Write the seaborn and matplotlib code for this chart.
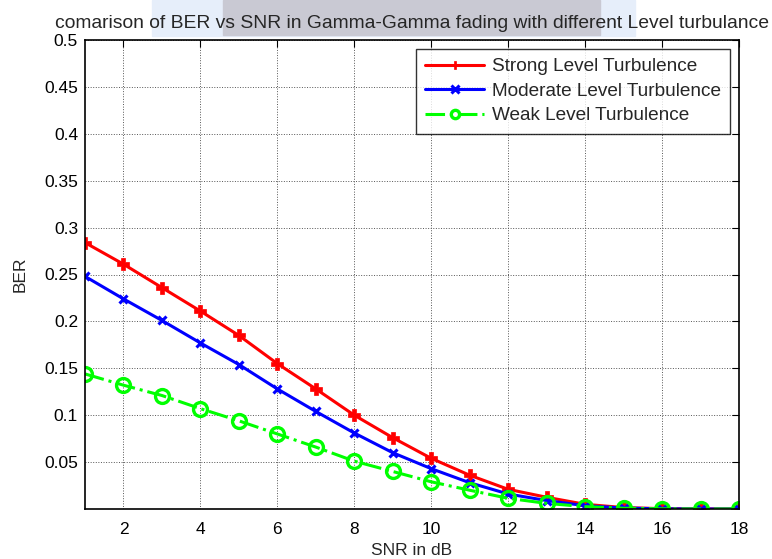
import matplotlib
matplotlib.use("Agg")
import matplotlib.pyplot as plt
from matplotlib.patches import Rectangle
import seaborn as sns
import pandas as pd

snr_db = [1, 2, 3, 4, 5, 6, 7, 8, 9, 10, 11, 12, 13, 14, 15, 16, 17, 18]
ber_strong = [0.284, 0.261, 0.236, 0.211, 0.185, 0.155, 0.128, 0.100, 0.076, 0.054,
              0.036, 0.021, 0.0125, 0.005, 0.0015, 0.0004, 0.0001, 0.0]
ber_moderate = [0.248, 0.224, 0.201, 0.177, 0.154, 0.128, 0.104, 0.081, 0.060, 0.043,
                0.028, 0.016, 0.009, 0.0035, 0.001, 0.0002, 0.0, 0.0]
ber_weak = [0.144, 0.132, 0.121, 0.107, 0.094, 0.080, 0.066, 0.051, 0.040, 0.029,
            0.020, 0.0114, 0.006, 0.0025, 0.0008, 0.0002, 0.0, 0.0]
labels = ["Strong Level Turbulence", "Moderate Level Turbulence", "Weak Level Turbulence"]
xticks = [2, 4, 6, 8, 10, 12, 14, 16, 18]
yticks = [0.05, 0.1, 0.15, 0.2, 0.25, 0.3, 0.35, 0.4, 0.45, 0.5]
ytick_labels = ["0.05", "0.1", "0.15", "0.2", "0.25", "0.3", "0.35", "0.4", "0.45", "0.5"]

sns.set_style("white")
plt.rcParams["font.family"] = ["Liberation Sans", "DejaVu Sans"]

fig = plt.figure(figsize=(7.72, 5.59), dpi=100)
# screenshot artefact behind the title
fig.patches.append(Rectangle((152 / 772, 1 - 36 / 559), (635 - 152) / 772, 36 / 559,
                             transform=fig.transFigure, color="#e6eefa", zorder=0))
fig.patches.append(Rectangle((223 / 772, 1 - 35 / 559), (600 - 223) / 772, 35 / 559,
                             transform=fig.transFigure, color="#c9c9d3", zorder=0))

ax = fig.add_axes([85 / 772, 1 - 509 / 559, (739 - 85) / 772, (509 - 40) / 559])
ax.set_zorder(2)
ax.set_facecolor("white")

styles = [
    dict(color="#ff0000", marker="P", markersize=8, markeredgewidth=0.5, linestyle="-"),
    dict(color="#0000ff", marker="x", markersize=6, markeredgewidth=2.2, linestyle="-"),
    dict(color="#00ff00", marker="o", markersize=10, markeredgewidth=2.4, linestyle="-.",
         markerfacecolor="none"),
]
for ys, lab, st in zip([ber_strong, ber_moderate, ber_weak], labels, styles):
    df = pd.DataFrame({"SNR": snr_db, "BER": ys})
    sns.lineplot(data=df, x="SNR", y="BER", ax=ax, label=lab, linewidth=2.2,
                 color=st["color"], marker=st["marker"], markersize=st["markersize"],
                 markeredgewidth=st["markeredgewidth"], linestyle=st["linestyle"],
                 markerfacecolor=st.get("markerfacecolor", st["color"]),
                 markeredgecolor=st["color"])

ax.set_xlim(1, 18)
ax.set_ylim(0, 0.5)
ax.set_xticks(xticks)
ax.set_xticklabels([str(t) for t in xticks])
ax.set_yticks(yticks)
ax.set_yticklabels(ytick_labels)
ax.tick_params(direction="in", length=5, width=0.8, top=True, right=True,
               labelsize=12.5, colors="black", pad=5)
ax.tick_params(axis="x", pad=9)
ax.grid(True, linestyle=":", color="#555555", linewidth=0.7)
for sp in ax.spines.values():
    sp.set_visible(True)
    sp.set_color("black")
    sp.set_linewidth(1.2)

ax.set_xlabel("SNR in dB", fontsize=12.5, labelpad=5)
ax.set_ylabel("BER", fontsize=12.5, labelpad=12)
ax.set_title("comarison of BER vs SNR in Gamma-Gamma fading with different Level turbulance",
             fontsize=13.9, pad=9)

leg = ax.legend(loc="upper right", fontsize=13.7, frameon=True, fancybox=False,
                edgecolor="black", handlelength=3.1, handletextpad=0.4,
                borderaxespad=0.45, labelspacing=0.38, borderpad=0.5)
leg.get_frame().set_linewidth(1.0)
for h in leg.get_lines():
    h.set_markersize(6)

fig.savefig("out.png", dpi=100, facecolor="white")
